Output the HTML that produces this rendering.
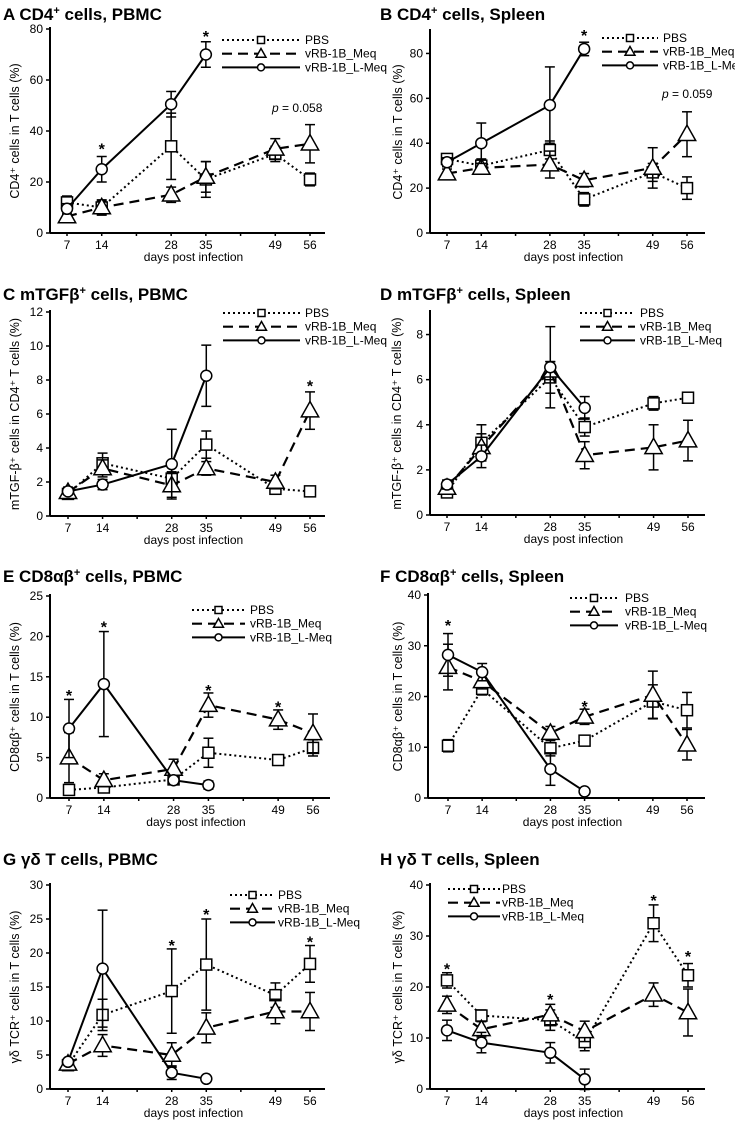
<!DOCTYPE html>
<html><head><meta charset="utf-8"><style>
html,body{margin:0;padding:0;background:#fff;}
svg{display:block;font-family:"Liberation Sans",Arial,sans-serif;}
</style></head><body>
<svg id="fig" width="735" height="1125" viewBox="0 0 735 1125" xmlns="http://www.w3.org/2000/svg"></svg>
<script>
const days = [7, 14, 28, 35, 49, 56];
const seriesNames = ["PBS", "vRB-1B_Meq", "vRB-1B_L-Meq"];
// Panel A
const aPBS = [12, 10, 34, 21, 31, 21];       const aPBSe = [2.5, 2.5, 13, 7, 3, 2.5];
const aMeq = [6.5, 10, 15, 22, 33, 35];      const aMeqe = [2, 3, 3, 6, 4, 7.5];
const aL   = [9.5, 25, 50.5, 70];            const aLe   = [2, 5, 5, 5];
// Panel B
const bPBS = [33, 30, 37, 15, 27, 20];       const bPBSe = [2, 3, 4, 3, 4, 5];
const bMeq = [26.5, 29, 30.5, 23.5, 29, 44]; const bMeqe = [2, 2, 6, 3, 9, 10];
const bL   = [31.5, 40, 57, 82];             const bLe   = [2, 9, 17, 3];
// Panel C
const cPBS = [1.3, 3.1, 2.2, 4.2, 1.6, 1.45]; const cPBSe = [0.2, 0.6, 0.4, 0.8, 0.2, 0.2];
const cMeq = [1.4, 2.8, 1.8, 2.8, 2.0, 6.2];  const cMeqe = [0.3, 0.5, 0.7, 0.4, 0.4, 1.1];
const cL   = [1.45, 1.85, 3.05, 8.25];        const cLe   = [0.2, 0.3, 2.05, 1.8];
// Panel D
const dPBS = [1.0, 3.2, 6.1, 3.9, 4.95, 5.2]; const dPBSe = [0.2, 0.8, 0.7, 0.4, 0.3, 0.2];
const dMeq = [1.2, 3.0, 6.4, 2.65, 3.0, 3.3]; const dMeqe = [0.2, 0.6, 0.4, 0.6, 1.0, 0.9];
const dL   = [1.35, 2.6, 6.55, 4.75];         const dLe   = [0.2, 0.5, 1.8, 0.5];
// Panel E
const ePBS = [1.0, 1.3, 2.3, 5.6, 4.7, 6.2];  const ePBSe = [0.3, 0.3, 0.4, 1.8, 0.3, 1.0];
const eMeq = [5.0, 2.2, 3.6, 11.5, 9.7, 8.0]; const eMeqe = [3.1, 0.8, 1.2, 1.5, 1.2, 2.4];
const eL   = [8.6, 14.1, 2.2, 1.6];           const eLe   = [3.6, 6.5, 0.3, 0.5];
// Panel F
const fPBS = [10.3, 21.5, 9.8, 11.3, 19, 17.3]; const fPBSe = [1.2, 1.2, 1.5, 0.5, 3.3, 3.5];
const fMeq = [25.8, 23, 12.8, 16, 20.3, 10.5];  const fMeqe = [4.5, 1.5, 1.3, 1.5, 4.7, 3];
const fL   = [28.2, 24.8, 5.7, 1.3];            const fLe   = [4.2, 1.7, 3.2, 0.3];
// Panel G
const gPBS = [3.5, 10.9, 14.4, 18.3, 13.8, 18.4]; const gPBSe = [0.5, 2.3, 6.2, 6.7, 1.8, 2.7];
const gMeq = [3.7, 6.4, 5.0, 9.0, 11.4, 11.4];    const gMeqe = [0.5, 1.6, 1.8, 2.2, 1.8, 2.8];
const gL   = [4.0, 17.7, 2.4, 1.5];               const gLe   = [0.3, 8.6, 1.0, 0.2];
// Panel H
const hPBS = [21.3, 14.4, 13.5, 9.2, 32.5, 22.3]; const hPBSe = [1.5, 1.1, 2, 1.7, 3.6, 2.3];
const hMeq = [16.5, 11.7, 14.6, 11.3, 18.5, 15.0]; const hMeqe = [1.7, 1.5, 2, 2, 2.3, 4.6];
const hL   = [11.5, 9.1, 7.1, 1.9];                const hLe   = [2, 2, 2, 2];
// asterisk positions [day, value]
const aStars = [[14, 34], [35, 78]];
const bStars = [[35, 89]];
const cStars = [[56, 7.8]];
const dStars = [];
const eStars = [[7, 13], [14, 21.5], [35, 13.6], [49, 11.6]];
const fStars = [[7, 34.5], [35, 18.5]];
const gStars = [[28, 21.5], [35, 26], [56, 22]];
const hStars = [[7, 24], [28, 18], [49, 37.5], [56, 26.5]];

const NS = "http://www.w3.org/2000/svg";
const fig = document.getElementById('fig');
function mk(tag, attrs, parent) {
  const e = document.createElementNS(NS, tag);
  for (const k in attrs) e.setAttribute(k, attrs[k]);
  parent.appendChild(e);
  return e;
}

const panels = [
  {id:'a', title:'A CD4', sup:'+', rest:' cells, PBMC', tx:3, ty:20, ax:50, x7:67, x56:310, xr:325, y0:233, ymax:80, ytop:29, step:20, ylab:'CD4⁺ cells in T cells (%)', ylx:15, leg:[222,300,305,40], p:'0.058', px:272, pv:49, pbs:aPBS, pbse:aPBSe, meq:aMeq, meqe:aMeqe, l:aL, le:aLe, stars:aStars},
  {id:'b', title:'B CD4', sup:'+', rest:' cells, Spleen', tx:380, ty:20, ax:430, x7:447, x56:687, xr:705, y0:233, ymax:90, ytop:31, step:20, ylab:'CD4⁺ cells in T cells (%)', ylx:398, leg:[602,658,663,38], p:'0.059', px:662, pv:62, pbs:bPBS, pbse:bPBSe, meq:bMeq, meqe:bMeqe, l:bL, le:bLe, stars:bStars},
  {id:'c', title:'C mTGFβ', sup:'+', rest:' cells, PBMC', tx:3, ty:300, ax:50, x7:68, x56:310, xr:325, y0:516, ymax:12, ytop:312, step:2, ylab:'mTGF-β⁺ cells in CD4⁺ T cells (%)', ylx:15, leg:[223,300,305,313], pbs:cPBS, pbse:cPBSe, meq:cMeq, meqe:cMeqe, l:cL, le:cLe, stars:cStars},
  {id:'d', title:'D mTGFβ', sup:'+', rest:' cells, Spleen', tx:380, ty:300, ax:430, x7:447, x56:688, xr:705, y0:515, ymax:9, ytop:312, step:2, ylab:'mTGF-β⁺ cells in CD4⁺ T cells (%)', ylx:397, leg:[580,635,640,313], pbs:dPBS, pbse:dPBSe, meq:dMeq, meqe:dMeqe, l:dL, le:dLe, stars:dStars},
  {id:'e', title:'E CD8αβ', sup:'+', rest:' cells,  PBMC', tx:3, ty:582, ax:50, x7:69, x56:313, xr:330, y0:798, ymax:25, ytop:596, step:5, ylab:'CD8αβ⁺ cells in T cells (%)', ylx:15, leg:[192,245,250,610], pbs:ePBS, pbse:ePBSe, meq:eMeq, meqe:eMeqe, l:eL, le:eLe, stars:eStars},
  {id:'f', title:'F CD8αβ', sup:'+', rest:' cells,  Spleen', tx:380, ty:582, ax:428, x7:448, x56:687, xr:705, y0:798, ymax:40, ytop:595, step:10, ylab:'CD8αβ⁺ cells in T cells (%)', ylx:398, leg:[570,618,625,598], pbs:fPBS, pbse:fPBSe, meq:fMeq, meqe:fMeqe, l:fL, le:fLe, stars:fStars},
  {id:'g', title:'G γδ T cells, PBMC', sup:'', rest:'', tx:3, ty:865, ax:50, x7:68, x56:310, xr:325, y0:1089, ymax:30, ytop:885, step:5, ylab:'γδ TCR⁺ cells in T cells (%)', ylx:15, leg:[230,275,278,895], pbs:gPBS, pbse:gPBSe, meq:gMeq, meqe:gMeqe, l:gL, le:gLe, stars:gStars},
  {id:'h', title:'H γδ T cells, Spleen', sup:'', rest:'', tx:380, ty:865, ax:430, x7:447, x56:688, xr:705, y0:1089, ymax:40, ytop:885, step:10, ylab:'γδ TCR⁺ cells in T cells (%)', ylx:398, leg:[448,500,502,889], pbs:hPBS, pbse:hPBSe, meq:hMeq, meqe:hMeqe, l:hL, le:hLe, stars:hStars}
];

const styles = [
  {dash:'2,3', w:2, marker:'sq'},
  {dash:'10,6', w:2.2, marker:'tri'},
  {dash:'', w:2, marker:'circ'}
];

function marker(g, type, x, y, s) {
  let m;
  if (type === 'sq') m = mk('rect', {x:x-s/2, y:y-s/2, width:s, height:s, fill:'#fff', stroke:'#000', 'stroke-width':1.5}, g);
  else if (type === 'tri') m = mk('polygon', {points:`${x},${y-s*0.65} ${x-s*0.62},${y+s*0.45} ${x+s*0.62},${y+s*0.45}`, fill:'#fff', stroke:'#000', 'stroke-width':1.5}, g);
  else m = mk('circle', {cx:x, cy:y, r:s/2, fill:'#fff', stroke:'#000', 'stroke-width':1.5}, g);
  return m;
}

panels.forEach(P => {
  const g = mk('g', {}, fig);
  
  
  const xs = d => P.x7 + (d - 7) * (P.x56 - P.x7) / 49;
  const ys = v => P.y0 - v * (P.y0 - P.ytop) / P.ymax;

  const t = mk('text', {x:P.tx, y:P.ty, 'font-size':17, 'font-weight':'bold'}, g);
  
  
  t.textContent = P.title;
  if (P.sup) {
    const s1 = mk('tspan', {'font-size':11, dy:-6}, t); s1.textContent = P.sup;
    const s2 = mk('tspan', {dy:6}, t); s2.textContent = P.rest;
  }

  const axY = mk('line', {x1:P.ax, y1:P.y0, x2:P.ax, y2:P.ytop - 2, stroke:'#000', 'stroke-width':2}, g);
  
  
  const axX = mk('line', {x1:P.ax, y1:P.y0, x2:P.xr, y2:P.y0, stroke:'#000', 'stroke-width':2}, g);
  
  

  for (let v = 0; v <= P.ymax + 1e-9; v += P.step) {
    mk('line', {x1:P.ax - 4, y1:ys(v), x2:P.ax, y2:ys(v), stroke:'#000', 'stroke-width':1.5}, g);
    const tl = mk('text', {x:P.ax - 7, y:ys(v) + 4, 'font-size':12, 'text-anchor':'end'}, g);
    
    
    tl.textContent = v;
  }
  for (let d = 7; d <= 63; d += 7) {
    if (xs(d) > P.xr) break;
    mk('line', {x1:xs(d), y1:P.y0, x2:xs(d), y2:P.y0 + 3, stroke:'#000', 'stroke-width':1.5}, g);
  }
  days.forEach(d => {
    const tl = mk('text', {x:xs(d), y:P.y0 + 16, 'font-size':12, 'text-anchor':'middle'}, g);
    
    
    tl.textContent = d;
  });
  const xl = mk('text', {x:(P.ax + P.xr) / 2 + 6, y:P.y0 + 28, 'font-size':12, 'text-anchor':'middle'}, g);
  
  
  xl.textContent = 'days post infection';
  const yc = (P.y0 + P.ytop) / 2;
  const yl = mk('text', {x:P.ylx, y:yc, 'font-size':12.5, 'text-anchor':'middle', transform:`rotate(-90 ${P.ylx} ${yc})`, dy:4}, g);
  
  
  yl.textContent = P.ylab;

  const data = [[P.pbs, P.pbse], [P.meq, P.meqe], [P.l, P.le]];
  data.forEach((sr, si) => {
    const [vals, errs] = sr;
    const st = styles[si];
    const sg = mk('g', {}, g);
    
    
    vals.forEach((v, i) => {
      const x = xs(days[i]);
      const e = errs[i];
      mk('line', {x1:x, y1:ys(v - e), x2:x, y2:ys(v + e), stroke:'#000', 'stroke-width':1.5}, sg);
      mk('line', {x1:x - 5, y1:ys(v + e), x2:x + 5, y2:ys(v + e), stroke:'#000', 'stroke-width':1.5}, sg);
      mk('line', {x1:x - 5, y1:ys(v - e), x2:x + 5, y2:ys(v - e), stroke:'#000', 'stroke-width':1.5}, sg);
    });
    const pts = vals.map((v, i) => xs(days[i]) + ',' + ys(v)).join(' ');
    const pl = mk('polyline', {points:pts, fill:'none', stroke:'#000', 'stroke-width':st.w}, sg);
    if (st.dash) pl.setAttribute('stroke-dasharray', st.dash);
    
    
    vals.forEach((v, i) => {
      const m = marker(sg, st.marker, xs(days[i]), ys(v), st.marker === 'tri' ? 14 : 11);
      
      
    });
  });

  P.stars.forEach(s => {
    const st = mk('text', {x:xs(s[0]), y:ys(s[1]) + 8, 'font-size':16, 'font-weight':'bold', 'text-anchor':'middle'}, g);
    
    
    st.textContent = '*';
  });
  if (P.p) {
    const pt = mk('text', {x:P.px, y:ys(P.pv) + 4, 'font-size':12}, g);
    
    
    const i1 = mk('tspan', {'font-style':'italic'}, pt); i1.textContent = 'p';
    const i2 = mk('tspan', {}, pt); i2.textContent = ' = ' + P.p;
  }

  const [lx1, lx2, ltx, ly] = P.leg;
  const lg = mk('g', {}, g);
  
  
  seriesNames.forEach((n, i) => {
    const y = ly + i * 13.7;
    const st = styles[i];
    const ln = mk('line', {x1:lx1, y1:y, x2:lx2, y2:y, stroke:'#000', 'stroke-width':st.w}, lg);
    if (st.dash) ln.setAttribute('stroke-dasharray', st.dash);
    marker(lg, st.marker, (lx1 + lx2) / 2, y, st.marker === 'tri' ? 8 : 7);
    const tx = mk('text', {x:ltx, y:y + 4, 'font-size':12}, lg);
    
    
    tx.textContent = n;
  });
});
</script>
</body></html>
